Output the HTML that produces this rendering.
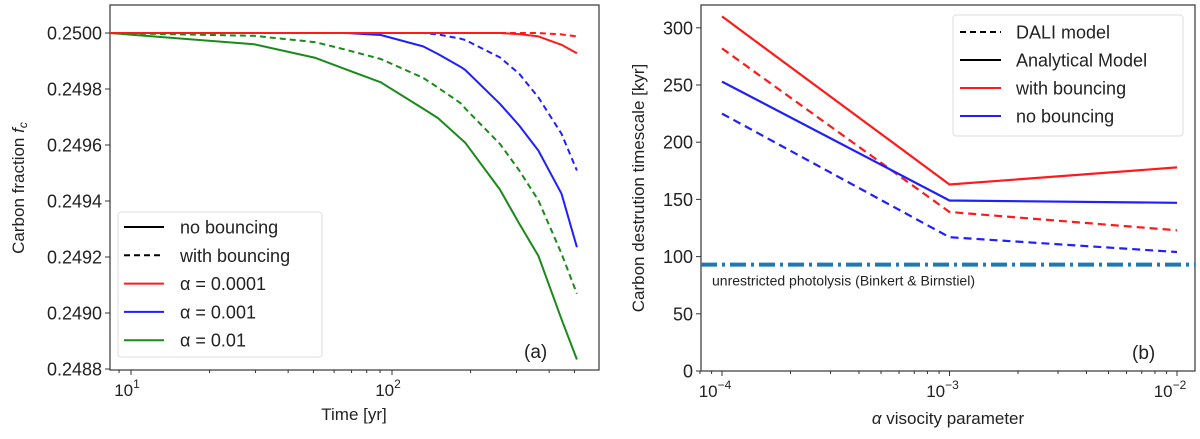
<!DOCTYPE html>
<html><head><meta charset="utf-8"><style>
body{margin:0;background:#fff;}
svg text{font-family:"Liberation Sans","DejaVu Sans",sans-serif;fill:#222;}
</style></head><body>
<svg id="fig" width="1200" height="434" xmlns="http://www.w3.org/2000/svg">
<g id="a"></g>
<g id="b"></g>
</svg>
<script>
// Panel (a) data
const timesA = [8.3, 29.6, 50.9, 66.7, 90.6, 131.6, 150, 184.6, 191, 259, 307, 364, 446, 511];
const greenSolid = [0.25, 0.24996, 0.249911, 0.24987, 0.249824, 0.24973, 0.249696, 0.24962, 0.249608, 0.249441, 0.24932, 0.249204, 0.248978, 0.248834];
const greenDashed = [0.25, 0.24999, 0.249967, 0.24994, 0.249907, 0.24984, 0.249805, 0.249747, 0.24973, 0.249604, 0.24951, 0.249402, 0.249212, 0.249069];
const blueSolid = [0.25, 0.25, 0.25, 0.25, 0.249993, 0.249952, 0.249925, 0.249877, 0.249868, 0.249747, 0.24967, 0.24958, 0.249426, 0.249235];
const blueDashed = [0.25, 0.25, 0.25, 0.25, 0.25, 0.25, 0.249995, 0.249979, 0.249975, 0.249913, 0.249855, 0.24977, 0.24964, 0.249509];
const redSolid = [0.25, 0.25, 0.25, 0.25, 0.25, 0.25, 0.25, 0.25, 0.25, 0.25, 0.249996, 0.249988, 0.249958, 0.249928];
const redDashed = [0.25, 0.25, 0.25, 0.25, 0.25, 0.25, 0.25, 0.25, 0.25, 0.25, 0.25, 0.25, 0.249995, 0.249988];
const yTicksA = [0.2488, 0.2490, 0.2492, 0.2494, 0.2496, 0.2498, 0.2500];
// Panel (b) data
const alphas = [1e-4, 1e-3, 1e-2];
const redSolidB = [310, 163, 178];
const redDashedB = [282, 139, 123];
const blueSolidB = [253, 149, 147];
const blueDashedB = [225, 117, 104];
const photolysis = 93;
const yTicksB = [0, 50, 100, 150, 200, 250, 300];

const NS = "http://www.w3.org/2000/svg";
function mk(parent, tag, attrs, txt){const e=document.createElementNS(NS,tag);for(const k in attrs)e.setAttribute(k,attrs[k]);if(txt!==undefined)e.textContent=txt;parent.appendChild(e);return e;}

// axes A
const xA = t => 131 + (Math.log10(t) - 1) * 261;
const yA = v => 33 + (0.25 - v) / 0.0012 * 336;
const ga = document.getElementById('a');
let f = mk(ga,'rect',{x:110,y:5,width:489,height:365,fill:'none',stroke:'#444','stroke-width':1.3});


yTicksA.forEach(v=>{
  const y=yA(v);
  let l=mk(ga,'line',{x1:105,x2:110,y1:y,y2:y,stroke:'#333'});
  
  
  let t=mk(ga,'text',{x:102,y:y+6.5,'text-anchor':'end','font-size':18},v.toFixed(4));
  
  
});
[10,100].forEach((d,i)=>{
  const x=xA(d);
  let l=mk(ga,'line',{x1:x,x2:x,y1:370,y2:375,stroke:'#333'});
  
  
  let t=mk(ga,'text',{x:x-4,y:396,'text-anchor':'middle','font-size':17},'10');
  
  
  mk(t,'tspan',{dy:-8,'font-size':12},String(i+1));
});
[9,20,30,40,50,60,70,80,90,200,300,400,500].forEach(d=>{
  const x=xA(d); if(x<110||x>599) return;
  let l=mk(ga,'line',{x1:x,x2:x,y1:370,y2:373,stroke:'#333'});
  
  
});
let xt=mk(ga,'text',{x:354,y:420,'text-anchor':'middle','font-size':17},'Time [yr]');


let yt=mk(ga,'text',{x:0,y:0,transform:'translate(24,188) rotate(-90)','text-anchor':'middle','font-size':17},'Carbon fraction ');


mk(yt,'tspan',{'font-style':'italic'},'f');
mk(yt,'tspan',{'font-style':'italic','font-size':12,dy:3},'c');
const seriesA=[[greenSolid,'#1a8a1a',''],[greenDashed,'#1a8a1a','6,4'],[blueSolid,'#1f1fff',''],[blueDashed,'#1f1fff','6,4'],[redSolid,'#ff1a1a',''],[redDashed,'#ff1a1a','6,4']];
const namesA=['green-solid-line','green-dashed-line','blue-solid-line','blue-dashed-line','red-solid-line','red-dashed-line'];
seriesA.forEach((s,i)=>{
  const pts=timesA.map((t,j)=>xA(t).toFixed(1)+','+yA(s[0][j]).toFixed(1)).join(' ');
  let p=mk(ga,'polyline',{points:pts,fill:'none',stroke:s[1],'stroke-width':2,'stroke-linejoin':'round','stroke-dasharray':s[2]||'none'});
  
  
});
let lgA=mk(ga,'g',{});


mk(lgA,'rect',{x:118,y:212,width:204,height:145,rx:3,fill:'#fff','fill-opacity':0.85,stroke:'#ddd'});
const legA=[['#000','','no bouncing'],['#000','6,4','with bouncing'],['#ff1a1a','','α = 0.0001'],['#1f1fff','','α = 0.001'],['#1a8a1a','','α = 0.01']];
legA.forEach((e,i)=>{
  const y=227+i*28.3;
  let g=mk(lgA,'g',{});
  
  
  mk(g,'line',{x1:124,x2:164,y1:y,y2:y,stroke:e[0],'stroke-width':2,'stroke-dasharray':e[1]||'none'});
  mk(g,'text',{x:180,y:y+6.5,'font-size':18},e[2]);
});
let la=mk(ga,'text',{x:524,y:358,'font-size':19},'(a)');



// axes B
const xB = a => 722 + (Math.log10(a) + 4) * 227.5;
const yB = v => 371 - v / 50 * 57.2;
const gb = document.getElementById('b');
f=mk(gb,'rect',{x:701,y:5,width:494,height:366,fill:'none',stroke:'#444','stroke-width':1.3});


yTicksB.forEach(v=>{
  const y=yB(v);
  let l=mk(gb,'line',{x1:696,x2:701,y1:y,y2:y,stroke:'#333'});
  
  
  let t=mk(gb,'text',{x:693,y:y+6.5,'text-anchor':'end','font-size':18},String(v));
  
  
});
[-4,-3,-2].forEach(e=>{
  const x=xB(Math.pow(10,e));
  let l=mk(gb,'line',{x1:x,x2:x,y1:371,y2:376,stroke:'#333'});
  
  
  let t=mk(gb,'text',{x:x-7,y:397,'text-anchor':'middle','font-size':17},'10');
  
  
  mk(t,'tspan',{dy:-8,'font-size':12},'−'+(-e));
});
[8e-5,9e-5,2e-4,3e-4,4e-4,5e-4,6e-4,7e-4,8e-4,9e-4,2e-3,3e-3,4e-3,5e-3,6e-3,7e-3,8e-3,9e-3].forEach(a=>{
  const x=xB(a);
  let l=mk(gb,'line',{x1:x,x2:x,y1:371,y2:374,stroke:'#333'});
  
  
});
xt=mk(gb,'text',{x:948,y:424,'text-anchor':'middle','font-size':17},'');


mk(xt,'tspan',{'font-style':'italic'},'α');
mk(xt,'tspan',{},' visocity parameter');
yt=mk(gb,'text',{x:0,y:0,transform:'translate(644,188) rotate(-90)','text-anchor':'middle','font-size':17},'Carbon destrution timescale [kyr]');


let hl=mk(gb,'line',{x1:701,x2:1195,y1:yB(photolysis),y2:yB(photolysis),stroke:'#1f77b4','stroke-width':4,'stroke-dasharray':'16,5,3,5'});


let ht=mk(gb,'text',{x:712,y:yB(photolysis)+21,'font-size':14},'unrestricted photolysis (Binkert & Birnstiel)');


const seriesB=[[redSolidB,'#ff1a1a',''],[redDashedB,'#ff1a1a','8,5'],[blueSolidB,'#1f1fff',''],[blueDashedB,'#1f1fff','8,5']];
const namesB=['red-solid-line-b','red-dashed-line-b','blue-solid-line-b','blue-dashed-line-b'];
seriesB.forEach((s,i)=>{
  const pts=alphas.map((a,j)=>xB(a).toFixed(1)+','+yB(s[0][j]).toFixed(1)).join(' ');
  let p=mk(gb,'polyline',{points:pts,fill:'none',stroke:s[1],'stroke-width':2.2,'stroke-dasharray':s[2]||'none'});
  
  
});
let lgB=mk(gb,'g',{});


mk(lgB,'rect',{x:953,y:15,width:230,height:121,rx:3,fill:'#fff','fill-opacity':0.85,stroke:'#ddd'});
const legB=[['#000','6,4','DALI model'],['#000','','Analytical Model'],['#ff1a1a','','with bouncing'],['#1f1fff','','no bouncing']];
legB.forEach((e,i)=>{
  const y=32+i*28;
  let g=mk(lgB,'g',{});
  
  
  mk(g,'line',{x1:960,x2:1001,y1:y,y2:y,stroke:e[0],'stroke-width':2,'stroke-dasharray':e[1]||'none'});
  mk(g,'text',{x:1016,y:y+6.5,'font-size':18},e[2]);
});
let lb=mk(gb,'text',{x:1132,y:359,'font-size':19},'(b)');


</script>
</body></html>
